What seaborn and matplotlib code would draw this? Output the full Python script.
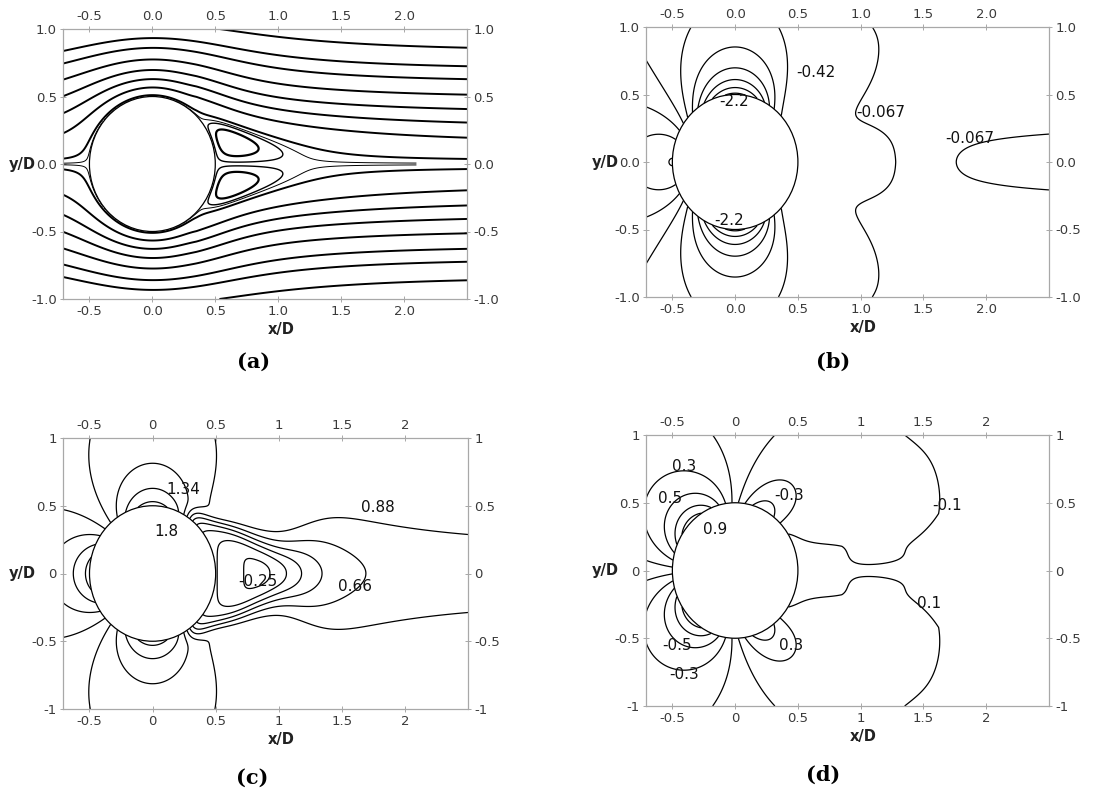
import numpy as np
import matplotlib
matplotlib.use("Agg")
import matplotlib.pyplot as plt
import seaborn as sns
from matplotlib.patches import Circle
from matplotlib.ticker import FormatStrFormatter

sns.set_theme(style="white")
plt.rcParams["font.family"] = ["DejaVu Sans"]
plt.rcParams["contour.negative_linestyle"] = "solid"

# ------------------------------------------------------------------ data
PANEL_TAGS = ["(a)", "(b)", "(c)", "(d)"]
X_TICKS = [-0.5, 0.0, 0.5, 1.0, 1.5, 2.0]
Y_TICKS = [-1.0, -0.5, 0.0, 0.5, 1.0]
X_LIM = (-0.71, 2.5)
Y_LIM = (-1.0, 1.0)

# (a) stream-function levels (closed bubbles, wall line, outer streamlines)
PSI_BUBBLE_INNER = [-0.024]
PSI_BUBBLE_OUTER = [-0.006]
PSI_WALL = [0.003]
PSI_OUTER = [0.02, 0.125, 0.23, 0.336, 0.45, 0.568, 0.663]
PSI_TOP = [0.797]
# (b) pressure coefficient levels
CP_LEVELS = [-2.2, -1.85, -1.49, -1.14, -0.78, -0.42, -0.067, 0.286, 0.64, 0.99]
CP_LABELS = ["-2.2", "-2.2", "-0.42", "-0.067", "-0.067"]
CP_LABEL_XY = [(-0.01, 0.447), (-0.046, -0.43), (0.64, 0.66), (1.16, 0.365), (1.87, 0.175)]
# (c) streamwise velocity levels
U_LEVELS = [-0.25, -0.0225, 0.205, 0.43, 0.66, 0.88, 1.11, 1.34, 1.57, 1.8]
U_LABELS = ["1.34", "1.8", "0.88", "-0.25", "0.66"]
U_LABEL_XY = [(0.243, 0.621), (0.112, 0.308), (1.788, 0.489), (0.838, -0.06), (1.604, -0.097)]
# (d) cross-stream velocity levels
V_LEVELS = [-0.9, -0.7, -0.5, -0.3, -0.1, 0.1, 0.3, 0.5, 0.7, 0.9]
V_LABELS = ["0.3", "0.5", "0.9", "-0.3", "-0.1", "0.1", "0.3", "-0.5", "-0.3"]
V_LABEL_XY = [(-0.41, 0.766), (-0.516, 0.533), (-0.16, 0.304), (0.434, 0.557),
              (1.69, 0.483), (1.543, -0.247), (0.448, -0.557), (-0.463, -0.557),
              (-0.41, -0.764)]

# ------------------------------------------------------------------ flow model
R = 0.5
xs = np.linspace(X_LIM[0], X_LIM[1], 720)
ys = np.linspace(Y_LIM[0], Y_LIM[1], 501)
X, Y = np.meshgrid(xs, ys)
AY = np.abs(Y)
SY = np.where(Y >= 0, 1.0, -1.0)
r2 = X ** 2 + Y ** 2
r = np.sqrt(r2)
rho2 = R ** 2 / r2
rho = np.sqrt(rho2)
th = np.arctan2(AY, X)
td = np.degrees(th)
c2 = np.cos(2 * th)
s2 = np.sin(2 * th)
inside = r2 < R ** 2


def sig(z):
    return 1.0 / (1.0 + np.exp(-z))


def smin(a, b, k):
    return -k * np.logaddexp(-a / k, -b / k)


# wake centre-line velocity model
w_c = np.where(X >= 0.85, 0.374, 0.6)
Uc = 0.85 - 1.15 / (1 + ((X - 0.85) / w_c) ** 2)
dUc = 1.15 * 2 * (X - 0.85) / w_c ** 2 / (1 + ((X - 0.85) / w_c) ** 2) ** 2

# (a) stream function
S = sig((X - 0.36) / 0.08)
S2 = sig((X - 0.8) / 0.3)
K = S * 1.065 / np.maximum(X - 0.05, 0.3) ** 1.297
B = K * AY * np.exp(-(AY / 0.32) ** 2) + S2 * 0.035 * np.tanh(AY / 0.3)
PSI = (1 - rho2) * (AY - B)

# (b) pressure coefficient
Cf = 1.65 * rho ** 1.6 * c2 - 0.65 * rho2 ** 2
T = -0.25 + 0.07 * np.exp(-((td - 20) / 9) ** 2) - 0.2 * sig((td - 38) / 5)
Cr = T * rho ** 1.4 - 0.15 * np.maximum(X - 1.6, 0) * np.exp(-(AY / 0.19) ** 2)
m = sig((td - 50) / 5)
CP = m * Cf + (1 - m) * Cr

# (c) streamwise velocity
g_u = np.where(X > 0, smin(c2, -0.2, 0.08), c2)
Ue = 1 - 0.9 * rho2 * g_u
delta = 0.40 - 0.17 * np.exp(-((X - 1.0) / 0.35) ** 2) + 0.05 * np.exp(-((X - 0.3) / 0.15) ** 2)
npow = 2 + 6 * np.exp(-((X - 0.4) / 0.35) ** 2)
Sw = sig((X - 0.28) / 0.03)
U = Ue - Sw * (Ue - Uc) * np.exp(-(AY / delta) ** npow)

# (d) cross-stream velocity (shifted far field + wake closure + entrainment)
Xs = X - 0.2 * sig(X / 0.3) * (1 - np.exp(-(r - 0.5) / 0.6))
rs2 = Xs ** 2 + Y ** 2
ths = np.arctan2(AY, Xs)
vp = -(R ** 2 / rs2) * np.sin(2 * ths)
f_r = 1 - 0.97 * sig((52 - td) / 8) * np.exp(-(r - 0.5) / 0.6)
vw = -AY * dUc * np.exp(-(AY / 0.12) ** 2) * sig((X - 0.45) / 0.05)
xcut = 1.6 - 0.6 * np.maximum(0.42 - AY, 0)
ve = (-0.12 * sig((xcut - X) / 0.07) * sig((X - 1.0) / 0.12)
      * np.tanh(AY / 0.2) * np.exp(-((AY - 0.4) / 0.38) ** 2))
V = SY * (vp * f_r + vw + ve)


def mask(F, extra=None):
    mk = inside if extra is None else (inside | extra)
    return np.ma.masked_where(mk, F)


# ------------------------------------------------------------------ figure
fig = plt.figure(figsize=(11.16, 7.96), dpi=100)
rects = [
    (63 / 1116, 1 - 299 / 796, 404 / 1116, 270 / 796),
    (646 / 1116, 1 - 297 / 796, 403 / 1116, 270 / 796),
    (63 / 1116, 1 - 709 / 796, 405 / 1116, 271 / 796),
    (646 / 1116, 1 - 706 / 796, 403 / 1116, 271 / 796),
]
tag_xy = [(254, 362), (833, 362), (252, 778), (823, 775)]
axes = [fig.add_axes(rc) for rc in rects]

LABEL_FONT = dict(fontsize=11, color="#111111", ha="center", va="center", zorder=5)

for i, ax in enumerate(axes):
    ax.set_facecolor("white")
    ax.set_xlim(*X_LIM)
    ax.set_ylim(*Y_LIM)
    ax.set_xticks(X_TICKS)
    ax.set_yticks(Y_TICKS)
    fmt = "%.1f" if i < 2 else "%g"
    ax.xaxis.set_major_formatter(FormatStrFormatter(fmt))
    ax.yaxis.set_major_formatter(FormatStrFormatter(fmt))
    ax.tick_params(direction="inout", length=5, width=0.6, color="#9a9a9a",
                   labelcolor="#3a3a3a", labelsize=9.5, pad=2,
                   top=True, right=True, bottom=True, left=True,
                   labeltop=True, labelright=True)
    for sp in ax.spines.values():
        sp.set_visible(True)
        sp.set_color("#a8a8a8")
        sp.set_linewidth(0.9)
    ax.grid(False)
    ax.set_xlabel("x/D", fontsize=10.5, fontweight="bold", color="#222222")
    ax.set_ylabel("y/D", fontsize=10.5, fontweight="bold", color="#222222",
                  rotation=0, ha="center", va="center")
    ax.xaxis.set_label_coords(0.54, -0.085)
    ax.xaxis.label.set_va("top")
    ax.yaxis.set_label_coords(-0.10, 0.5)
    ax.add_patch(Circle((0, 0), R, facecolor="white", edgecolor="black",
                        linewidth=0.9, zorder=3))
    fig.text(tag_xy[i][0] / 1116, 1 - tag_xy[i][1] / 796, PANEL_TAGS[i],
             fontsize=15, fontweight="bold", family="DejaVu Serif",
             ha="center", va="center", color="black")

# (a)
ax = axes[0]
ax.contour(X, Y, mask(PSI), levels=PSI_BUBBLE_INNER, colors="black", linewidths=1.6)
ax.contour(X, Y, mask(PSI), levels=PSI_BUBBLE_OUTER, colors="black", linewidths=1.0)
ax.contour(X, Y, mask(PSI, X > 2.1), levels=PSI_WALL, colors="black", linewidths=0.7)
ax.contour(X, Y, mask(PSI), levels=PSI_OUTER, colors="black", linewidths=1.4)
ax.contour(X, Y, mask(PSI, X < 0.2), levels=PSI_TOP, colors="black", linewidths=1.4)

# (b)
ax = axes[1]
ax.contour(X, Y, mask(CP), levels=CP_LEVELS, colors="black", linewidths=0.9)
for t, (px, py) in zip(CP_LABELS, CP_LABEL_XY):
    ax.text(px, py, t, **LABEL_FONT)

# (c)
ax = axes[2]
ax.contour(X, Y, mask(U), levels=U_LEVELS, colors="black", linewidths=0.9)
for t, (px, py) in zip(U_LABELS, U_LABEL_XY):
    ax.text(px, py, t, **LABEL_FONT)

# (d)
ax = axes[3]
ax.contour(X, Y, mask(V), levels=V_LEVELS, colors="black", linewidths=0.9)
for t, (px, py) in zip(V_LABELS, V_LABEL_XY):
    ax.text(px, py, t, **LABEL_FONT)

fig.savefig("out.png", dpi=100, facecolor="white")
